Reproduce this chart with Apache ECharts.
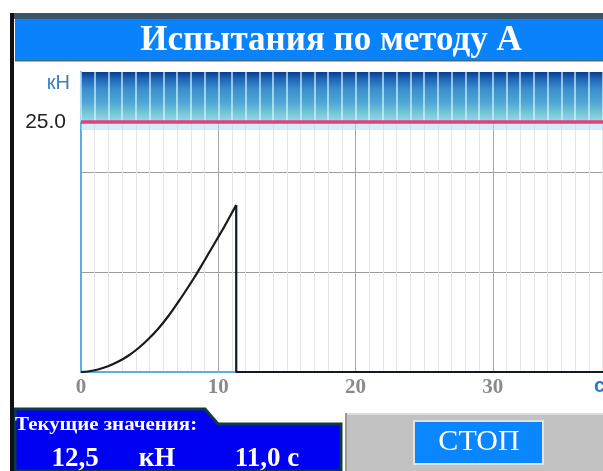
<!DOCTYPE html>
<html>
<head>
<meta charset="utf-8">
<script src="https://cdn.jsdelivr.net/npm/echarts@6/dist/echarts.min.js"></script>
<style>
html,body{margin:0;padding:0;background:#fff;}
#chart{width:603px;height:471px;}
</style>
</head>
<body>
<div id="chart"></div>
<script>
// ---- data ----
const titleText = 'Испытания по методу А';
const yUnit = 'кН';
const xUnit = 'с';
const xTicks = [0, 10, 20, 30, 40];
const curveT  = [0, 0.51, 1.24, 1.97, 2.69, 3.42, 4.15, 4.88, 5.61, 6.34, 7.06, 7.55, 8.28, 8.89, 9.49, 9.98, 10.47, 10.95, 11.31];
const curveKN = [0, 0.05, 0.25, 0.58, 1.02, 1.6, 2.35, 3.25, 4.3, 5.55, 6.95, 7.95, 9.5, 10.9, 12.3, 13.45, 14.6, 15.8, 16.7];
const afterT  = [11.31, 11.31, 40];
const afterKN = [16.7, 0, 0];
const limitKN = 25;
const bandTopKN = 30;
const bandSeconds = [0,1,2,3,4,5,6,7,8,9,10,11,12,13,14,15,16,17,18,19,20,21,22,23,24,25,26,27,28,29,30,31,32,33,34,35,36,37,38,39,40];
const panelLabel = 'Текущие значения:';
const currentForce = '12,5';
const currentForceUnit = 'кН';
const currentTime = '11,0 с';
const stopLabel = 'СТОП';

const curveData = curveT.map((t, i) => [t, curveKN[i]]);
const afterData = afterT.map((t, i) => [t, afterKN[i]]);

const bandLines = bandSeconds.map(s => [{coord: [s, limitKN]}, {coord: [s, bandTopKN]}]);

const chart = echarts.init(document.getElementById('chart'), null, {renderer: 'canvas'});
const serif = '"Liberation Serif", "Times New Roman", serif';
const sans = '"Liberation Sans", Arial, sans-serif';

chart.setOption({
  animation: false,
  backgroundColor: '#ffffff',
  grid: {left: 81, top: 72, width: 549, height: 300, containLabel: false, outerBoundsMode: 'none'},
  xAxis: {
    type: 'value', min: xTicks[0], max: xTicks[xTicks.length - 1], interval: 10,
    axisLine: {show: true, lineStyle: {color: '#5eaee0', width: 2}},
    axisTick: {show: false},
    minorTick: {show: false, splitNumber: 10},
    minorSplitLine: {show: true, lineStyle: {color: '#e6e6e6', width: 1}},
    splitLine: {show: true, lineStyle: {color: '#a6a6a6', width: 1}},
    axisLabel: {color: '#8a8a8a', fontFamily: serif, fontWeight: 'bold', fontSize: 21, margin: 5}
  },
  yAxis: [{
    type: 'value', min: 0, max: bandTopKN, interval: 10,
    axisLine: {show: true, lineStyle: {color: '#5eaee0', width: 2}},
    axisTick: {show: false},
    axisLabel: {show: false},
    splitLine: {show: true, lineStyle: {color: '#9c9c9c', width: 1}}
  }, {
    type: 'value', min: 0, max: bandTopKN, interval: limitKN, position: 'left',
    axisLine: {show: false}, axisTick: {show: false}, splitLine: {show: false},
    axisLabel: {
      color: '#222', fontFamily: sans, fontSize: 21, margin: 15,
      formatter: v => (v === limitKN ? limitKN.toFixed(1) : '')
    }
  }],
  series: [{
    type: 'line', data: curveData, smooth: 0.3, symbol: 'none', z: 5,
    lineStyle: {color: '#1a1a1a', width: 2.2},
    markArea: {
      silent: true,
      data: [
        [{yAxis: limitKN, itemStyle: {color: {type: 'linear', x: 0, y: 0, x2: 0, y2: 1, colorStops: [
          {offset: 0, color: '#0a3a8e'},
          {offset: 0.12, color: '#1d62b2'},
          {offset: 0.35, color: '#3b8fcf'},
          {offset: 0.6, color: '#4fa4d6'},
          {offset: 0.8, color: '#6fc4d4'},
          {offset: 1, color: '#a2d6ea'}
        ]}}}, {yAxis: bandTopKN}],
        [{yAxis: limitKN - 0.8, itemStyle: {color: 'rgba(170,218,242,0.5)'}}, {yAxis: limitKN}]
      ]
    },
    markLine: {
      silent: true, symbol: ['none', 'none'], label: {show: false},
      data: bandLines.map(p => [Object.assign({lineStyle: {color: 'rgba(215,245,255,0.85)', width: 1.5, type: 'solid'}}, p[0]), p[1]])
        .concat([{yAxis: limitKN, lineStyle: {color: '#d8467a', width: 3.5, type: 'solid'}}])
    }
  }, {
    type: 'line', data: afterData, symbol: 'none', z: 6,
    lineStyle: {color: '#121826', width: 2.2}
  }],
  graphic: [
    {type: 'rect', z: 10, shape: {x: 10, y: 13, width: 593, height: 6}, style: {fill: '#3b566a'}},
    {type: 'rect', z: 10, shape: {x: 15, y: 19, width: 588, height: 42}, style: {fill: '#0a82fc'}},
    {type: 'rect', z: 10, shape: {x: 15, y: 60, width: 588, height: 1.5}, style: {fill: '#3b6a8a'}},
    {type: 'rect', z: 11, shape: {x: 10, y: 13, width: 4, height: 458}, style: {fill: '#111111'}},
    {type: 'text', z: 12, style: {text: titleText, x: 331, y: 41, fill: '#ffffff', font: 'bold 35px ' + serif, textAlign: 'center', textVerticalAlign: 'middle'}},
    {type: 'text', z: 12, style: {text: yUnit, x: 70, y: 83, fill: '#3a80c0', font: '20px ' + sans, textAlign: 'right', textVerticalAlign: 'middle'}},
    {type: 'text', z: 12, style: {text: xUnit, x: 594, y: 386, fill: '#2a7ac8', font: 'bold 20px ' + sans, textAlign: 'left', textVerticalAlign: 'middle'}},
    // bottom-left value panel
    {type: 'polygon', z: 10, shape: {points: [[15, 409], [205, 409], [218, 424], [341, 424], [341, 471], [15, 471]]},
      style: {fill: '#0000f2', stroke: '#0f3c44', lineWidth: 3}},
    {type: 'text', z: 12, x: 15, y: 425, scaleX: 1.16, style: {text: panelLabel, x: 0, y: 0, fill: '#ffffff', font: 'bold 18px ' + serif, textAlign: 'left', textVerticalAlign: 'middle'}},
    {type: 'text', z: 12, style: {text: currentForce, x: 75, y: 459, fill: '#ffffff', font: 'bold 27px ' + serif, textAlign: 'center', textVerticalAlign: 'middle'}},
    {type: 'text', z: 12, style: {text: currentForceUnit, x: 157, y: 459, fill: '#ffffff', font: 'bold 27px ' + serif, textAlign: 'center', textVerticalAlign: 'middle'}},
    {type: 'text', z: 12, style: {text: currentTime, x: 267, y: 459, fill: '#ffffff', font: 'bold 27px ' + serif, textAlign: 'center', textVerticalAlign: 'middle'}},
    // right gray panel with button
    {type: 'rect', z: 10, shape: {x: 345, y: 413, width: 258, height: 58}, style: {fill: '#c2c2c2'}},
    {type: 'rect', z: 10, shape: {x: 345, y: 413, width: 258, height: 2}, style: {fill: '#dcdcdc'}},
    {type: 'rect', z: 10, shape: {x: 345, y: 413, width: 2, height: 58}, style: {fill: '#9a9a9a'}},
    {type: 'rect', z: 11, shape: {x: 413, y: 420, width: 131, height: 45}, style: {fill: '#e2e2e2'}},
    {type: 'rect', z: 12, shape: {x: 415, y: 422, width: 127, height: 41}, style: {fill: '#0a86ff'}},
    {type: 'text', z: 13, style: {text: stopLabel, x: 479, y: 442, fill: '#ffffff', font: '30px ' + serif, textAlign: 'center', textVerticalAlign: 'middle'}}
  ]
});
</script>
</body>
</html>
